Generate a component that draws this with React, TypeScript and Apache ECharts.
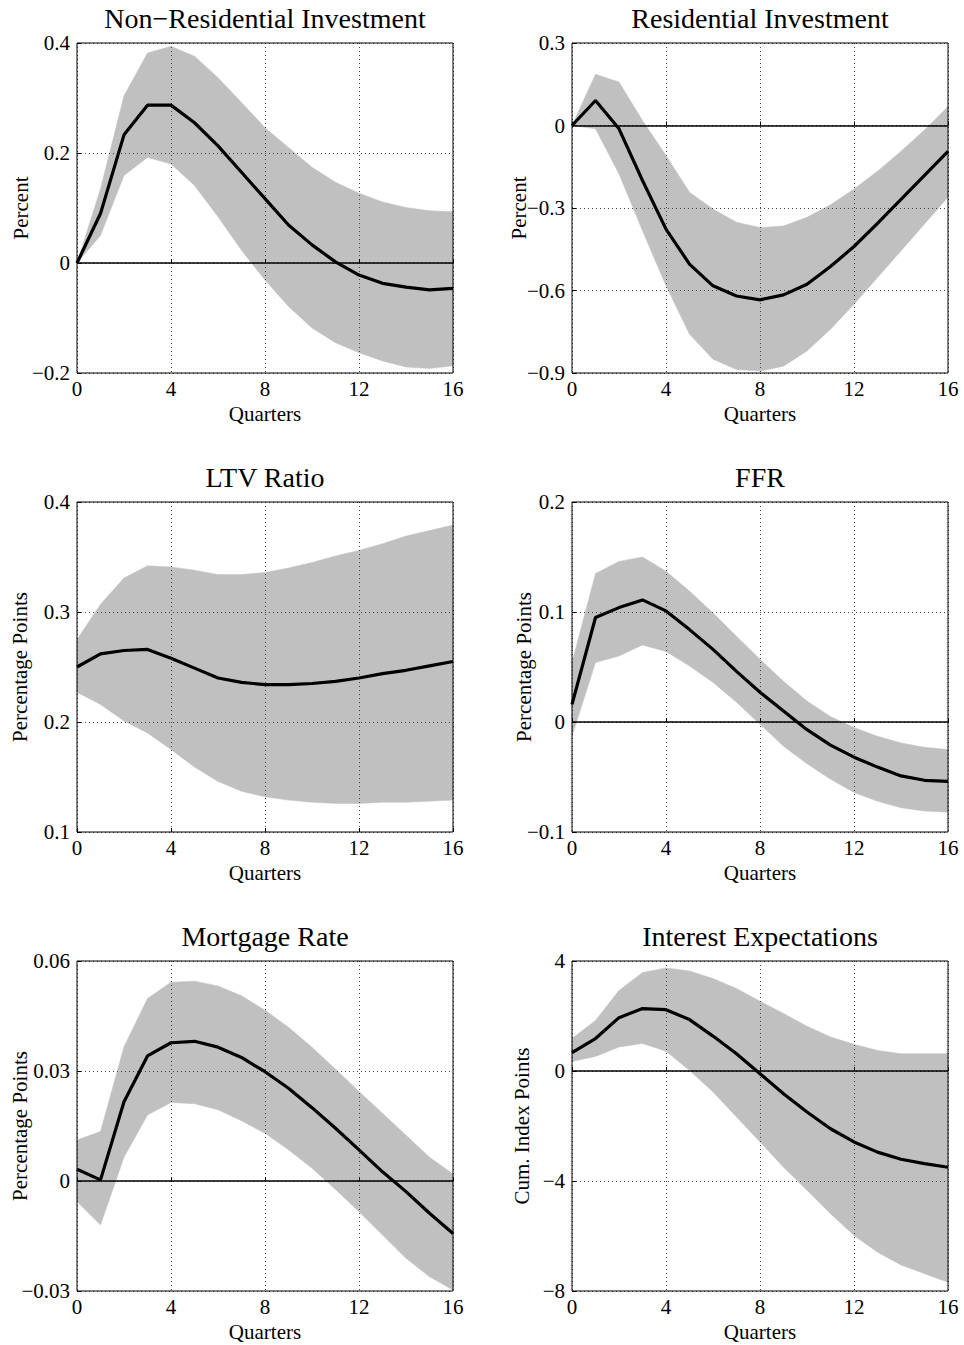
import React, { useEffect, useRef } from "react";
import * as echarts from "echarts";

// Horizon in quarters
const quarters = [0, 1, 2, 3, 4, 5, 6, 7, 8, 9, 10, 11, 12, 13, 14, 15, 16];

// Non-residential investment (percent)
const nonresMedian = [0, 0.09, 0.233, 0.287, 0.287, 0.255, 0.213, 0.165, 0.117, 0.069, 0.033, 0.002, -0.022, -0.037, -0.044, -0.049, -0.046];
const nonresUpper = [0, 0.135, 0.304, 0.382, 0.394, 0.376, 0.337, 0.292, 0.246, 0.21, 0.174, 0.147, 0.127, 0.111, 0.101, 0.095, 0.093];
const nonresLower = [0, 0.05, 0.159, 0.192, 0.18, 0.141, 0.084, 0.023, -0.031, -0.079, -0.118, -0.145, -0.163, -0.178, -0.189, -0.192, -0.187];

// Residential investment (percent)
const resMedian = [0, 0.091, -0.012, -0.2, -0.377, -0.504, -0.583, -0.62, -0.634, -0.616, -0.577, -0.513, -0.44, -0.356, -0.269, -0.181, -0.094];
const resUpper = [0, 0.186, 0.158, 0.018, -0.109, -0.243, -0.304, -0.352, -0.371, -0.365, -0.334, -0.288, -0.231, -0.166, -0.094, -0.016, 0.069];
const resLower = [0, -0.012, -0.176, -0.383, -0.583, -0.759, -0.85, -0.887, -0.893, -0.875, -0.82, -0.741, -0.65, -0.553, -0.456, -0.358, -0.261];

// LTV ratio (percentage points)
const ltvMedian = [0.25, 0.262, 0.265, 0.266, 0.258, 0.249, 0.24, 0.236, 0.234, 0.234, 0.235, 0.237, 0.24, 0.244, 0.247, 0.251, 0.255];
const ltvUpper = [0.275, 0.307, 0.331, 0.342, 0.341, 0.338, 0.334, 0.334, 0.336, 0.34, 0.345, 0.351, 0.356, 0.362, 0.369, 0.374, 0.379];
const ltvLower = [0.227, 0.216, 0.201, 0.19, 0.175, 0.159, 0.146, 0.137, 0.132, 0.129, 0.127, 0.126, 0.126, 0.127, 0.127, 0.128, 0.129];

// Federal funds rate (percentage points)
const ffrMedian = [0.016, 0.095, 0.104, 0.111, 0.101, 0.084, 0.066, 0.046, 0.027, 0.01, -0.007, -0.021, -0.032, -0.041, -0.049, -0.053, -0.054];
const ffrUpper = [0.054, 0.135, 0.146, 0.15, 0.137, 0.119, 0.099, 0.078, 0.057, 0.037, 0.019, 0.005, -0.005, -0.013, -0.019, -0.023, -0.025];
const ffrLower = [-0.013, 0.054, 0.06, 0.07, 0.064, 0.051, 0.036, 0.018, -0.002, -0.022, -0.038, -0.052, -0.064, -0.072, -0.078, -0.081, -0.082];

// Mortgage rate (percentage points)
const mortMedian = [0.0032, 0.0003, 0.0216, 0.0341, 0.0377, 0.0381, 0.0365, 0.0337, 0.0298, 0.0253, 0.02, 0.0144, 0.0085, 0.0025, -0.0029, -0.0088, -0.0143];
const mortUpper = [0.0112, 0.0135, 0.0366, 0.0498, 0.0542, 0.0545, 0.0532, 0.0505, 0.0466, 0.0419, 0.0365, 0.0305, 0.0244, 0.0185, 0.0125, 0.0065, 0.0019];
const mortLower = [-0.0056, -0.012, 0.0065, 0.018, 0.0214, 0.0211, 0.0194, 0.0164, 0.013, 0.0085, 0.0035, -0.0023, -0.0084, -0.0147, -0.0211, -0.0261, -0.0297];

// Interest expectations (cumulative index points)
const intMedian = [0.67, 1.18, 1.94, 2.27, 2.23, 1.87, 1.27, 0.63, -0.1, -0.83, -1.49, -2.1, -2.58, -2.95, -3.21, -3.37, -3.5];
const intUpper = [1.18, 1.84, 2.93, 3.58, 3.75, 3.64, 3.36, 3.0, 2.54, 2.09, 1.63, 1.24, 0.97, 0.75, 0.63, 0.63, 0.63];
const intLower = [0.35, 0.53, 0.87, 1.0, 0.72, 0.02, -0.76, -1.67, -2.58, -3.5, -4.34, -5.19, -5.98, -6.59, -7.05, -7.37, -7.68];

const panelTitles = ["Non\u2212Residential Investment", "Residential Investment", "LTV Ratio", "FFR", "Mortgage Rate", "Interest Expectations"];
const yAxisNames = ["Percent", "Percent", "Percentage Points", "Percentage Points", "Percentage Points", "Cum. Index Points"];
const yMins = [-0.2, -0.9, 0.1, -0.1, -0.03, -8];
const yMaxs = [0.4, 0.3, 0.4, 0.2, 0.06, 4];
const yIntervals = [0.2, 0.3, 0.1, 0.1, 0.03, 4];
const medians = [nonresMedian, resMedian, ltvMedian, ffrMedian, mortMedian, intMedian];
const uppers = [nonresUpper, resUpper, ltvUpper, ffrUpper, mortUpper, intUpper];
const lowers = [nonresLower, resLower, ltvLower, ffrLower, mortLower, intLower];
const showZeroLine = [true, true, false, true, true, true];

const FONT = "'Liberation Serif', 'Times New Roman', serif";
const BAND = "#c0c0c0";

// Plot-area layout of the 3x2 panel grid
const colLeft = [77, 572];
const rowTop = [43, 502, 961];
const plotW = 376;
const plotH = 330;
const nameGaps = [46, 43, 47, 38, 47, 40];

const fmt = (v: number) => {
  const r = Math.round(v * 1e6) / 1e6;
  return r < 0 ? "\u2212" + String(-r) : String(r);
};

export default function App() {
  const ref = useRef<HTMLDivElement>(null);

  useEffect(() => {
    document.body.style.margin = "0";
    if (!ref.current) return;
    const chart = echarts.init(ref.current, undefined, { renderer: "svg" });

    const grids: any[] = [];
    const xAxes: any[] = [];
    const yAxes: any[] = [];
    const series: any[] = [];
    const graphics: any[] = [];

    panelTitles.forEach((title, i) => {
      const left = colLeft[i % 2];
      const top = rowTop[Math.floor(i / 2)];
      grids.push({
        left,
        top,
        width: plotW,
        height: plotH,
        show: true,
        borderColor: "#000",
        borderWidth: 1,
        backgroundColor: "transparent",
        z: 10,
        containLabel: false,
        outerBoundsMode: "none",
      });
      const dotted = { show: true, lineStyle: { color: "#444", width: 1, type: [1, 3] } };
      xAxes.push({
        type: "value",
        gridIndex: i,
        min: 0,
        max: 16,
        interval: 4,
        z: 3,
        axisLine: { show: false },
        axisTick: { show: true, inside: true, length: 4, lineStyle: { color: "#000" } },
        axisLabel: { color: "#000", fontFamily: FONT, fontSize: 21, margin: 5 },
        splitLine: dotted,
        name: "Quarters",
        nameLocation: "middle",
        nameGap: 30,
        nameMoveOverlap: false,
        nameTextStyle: { color: "#000", fontFamily: FONT, fontSize: 21 },
      });
      yAxes.push({
        type: "value",
        gridIndex: i,
        min: yMins[i],
        max: yMaxs[i],
        interval: yIntervals[i],
        z: 3,
        axisLine: { show: false },
        axisTick: { show: true, inside: true, length: 4, lineStyle: { color: "#000" } },
        axisLabel: { color: "#000", fontFamily: FONT, fontSize: 21, margin: 7, formatter: fmt },
        splitLine: dotted,
        name: yAxisNames[i],
        nameLocation: "middle",
        nameGap: nameGaps[i],
        nameMoveOverlap: false,
        nameTextStyle: { color: "#000", fontFamily: FONT, fontSize: 21 },
      });

      const lower = lowers[i];
      const upper = uppers[i];
      // Confidence band: one polygon through the upper bound and back along the lower bound
      series.push({
        type: "custom",
        xAxisIndex: i,
        yAxisIndex: i,
        silent: true,
        z: 1,
        data: quarters.map((q, k) => [q, lower[k], upper[k]]),
        encode: { x: 0, y: [1, 2] },
        renderItem: (params: any, api: any) => {
          if (params.dataIndex !== 0) return null;
          const top = quarters.map((q, k) => api.coord([q, upper[k]]));
          const bottom = quarters.map((q, k) => api.coord([q, lower[k]])).reverse();
          return {
            type: "polygon",
            shape: { points: top.concat(bottom) },
            style: { fill: BAND, stroke: BAND, lineWidth: 0.5 },
          };
        },
      });
      const med: any = {
        type: "line",
        xAxisIndex: i,
        yAxisIndex: i,
        symbol: "none",
        silent: true,
        lineStyle: { color: "#000", width: 3.2 },
        data: quarters.map((q, k) => [q, medians[i][k]]),
        z: 5,
      };
      if (showZeroLine[i]) {
        med.markLine = {
          silent: true,
          symbol: ["none", "none"],
          label: { show: false },
          lineStyle: { color: "#000", width: 1.6, type: "solid" },
          data: [{ yAxis: 0 }],
        };
      }
      series.push(med);

      graphics.push({
        type: "text",
        x: left + plotW / 2,
        y: top - 24.5,
        style: {
          text: title,
          fill: "#000",
          font: `28px ${FONT}`,
          textAlign: "center",
          align: "center",
          textVerticalAlign: "middle",
          verticalAlign: "middle",
        },
      });
    });

    chart.setOption({
      animation: false,
      backgroundColor: "#fff",
      grid: grids,
      xAxis: xAxes,
      yAxis: yAxes,
      series,
      graphic: graphics,
    });

    return () => chart.dispose();
  }, []);

  return <div ref={ref} style={{ width: 964, height: 1345 }} />;
}
